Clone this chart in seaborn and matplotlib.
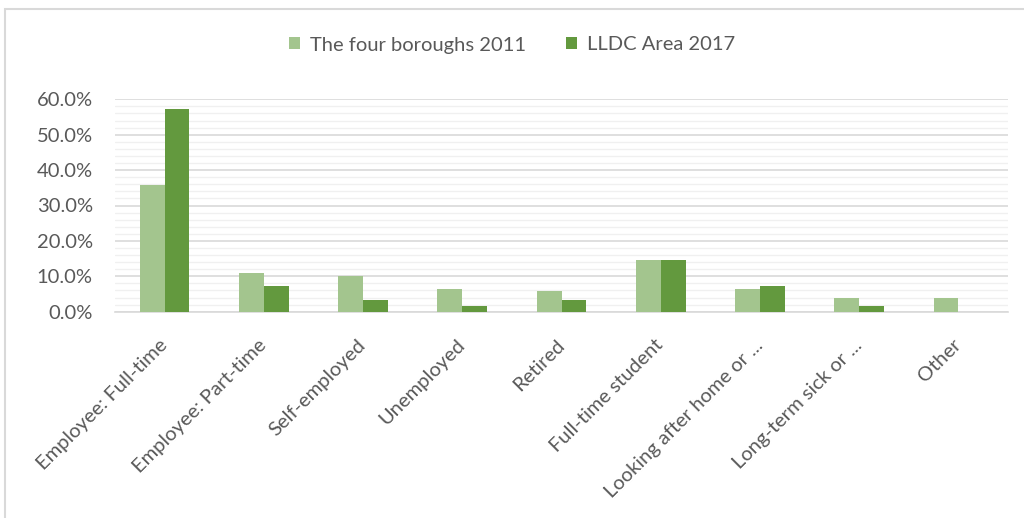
import matplotlib
matplotlib.use("Agg")
import matplotlib.pyplot as plt
import matplotlib.ticker as mticker
from matplotlib.patches import Rectangle
import pandas as pd
import seaborn as sns

categories = [
    "Employee: Full-time",
    "Employee: Part-time",
    "Self-employed",
    "Unemployed",
    "Retired",
    "Full-time student",
    "Looking after home or ...",
    "Long-term sick or ...",
    "Other",
]
boroughs_2011 = [0.358, 0.108, 0.102, 0.063, 0.058, 0.147, 0.063, 0.040, 0.040]
lldc_2017 = [0.573, 0.073, 0.034, 0.017, 0.034, 0.147, 0.073, 0.017, 0.0]
series_names = ["The four boroughs 2011", "LLDC Area 2017"]
y_ticks = [0.0, 0.1, 0.2, 0.3, 0.4, 0.5, 0.6]

df = pd.DataFrame({
    "category": categories * 2,
    "value": boroughs_2011 + lldc_2017,
    "series": [series_names[0]] * len(categories) + [series_names[1]] * len(categories),
})

sns.set_theme(style="white")
plt.rcParams["font.family"] = ["Lato", "DejaVu Sans"]
text_color = "#595959"
font_size = 14.5

fig = plt.figure(figsize=(10.24, 5.18), dpi=100)
ax = fig.add_axes([115 / 1024, 1 - 311.7 / 518, (1008 - 115) / 1024, (311.7 - 99.3) / 518])

palette = {series_names[0]: "#A3C58E", series_names[1]: "#63993E"}
sns.barplot(data=df, x="category", y="value", hue="series", palette=palette,
            width=0.5, linewidth=0, saturation=1, ax=ax, zorder=3)

ax.set_ylim(0, 0.6)
ax.set_yticks(y_ticks)
ax.yaxis.set_minor_locator(mticker.MultipleLocator(0.02))
ax.yaxis.set_major_formatter(mticker.FuncFormatter(lambda v, _: f"{v * 100:.1f}%"))
ax.grid(axis="y", which="major", color="#D9D9D9", linewidth=1.2, zorder=0)
ax.grid(axis="y", which="minor", color="#F0F0F0", linewidth=1.0, zorder=0)
ax.grid(axis="x", visible=False)
ax.set_axisbelow(True)

for side in ["top", "right", "left"]:
    ax.spines[side].set_visible(False)
ax.spines["bottom"].set_color("#D9D9D9")
ax.spines["bottom"].set_linewidth(1.2)

ax.set_xlabel("")
ax.set_ylabel("")
ax.tick_params(axis="y", which="both", length=0, pad=16, labelsize=font_size, labelcolor=text_color)
ax.tick_params(axis="x", length=0, pad=22, labelsize=font_size, labelcolor=text_color)
for lbl in ax.get_xticklabels():
    lbl.set_rotation(45)
    lbl.set_ha("right")
    lbl.set_va("center")
    lbl.set_rotation_mode("anchor")

handles, labels = ax.get_legend_handles_labels()
ax.legend_.remove()
fig.legend(handles, labels, loc="center", bbox_to_anchor=(0.5, 1 - 45 / 518), ncol=2,
           frameon=False, fontsize=font_size, labelcolor=text_color, handlelength=0.55,
           handleheight=0.55, handletextpad=0.5, columnspacing=2.0)

fig.patches.append(Rectangle((4.5 / 1024, -0.1), 1.2, 1.1 - 9 / 518,
                             transform=fig.transFigure, fill=False,
                             edgecolor="#D9D9D9", linewidth=1.5))

fig.savefig("out.png", dpi=100, facecolor="white")
